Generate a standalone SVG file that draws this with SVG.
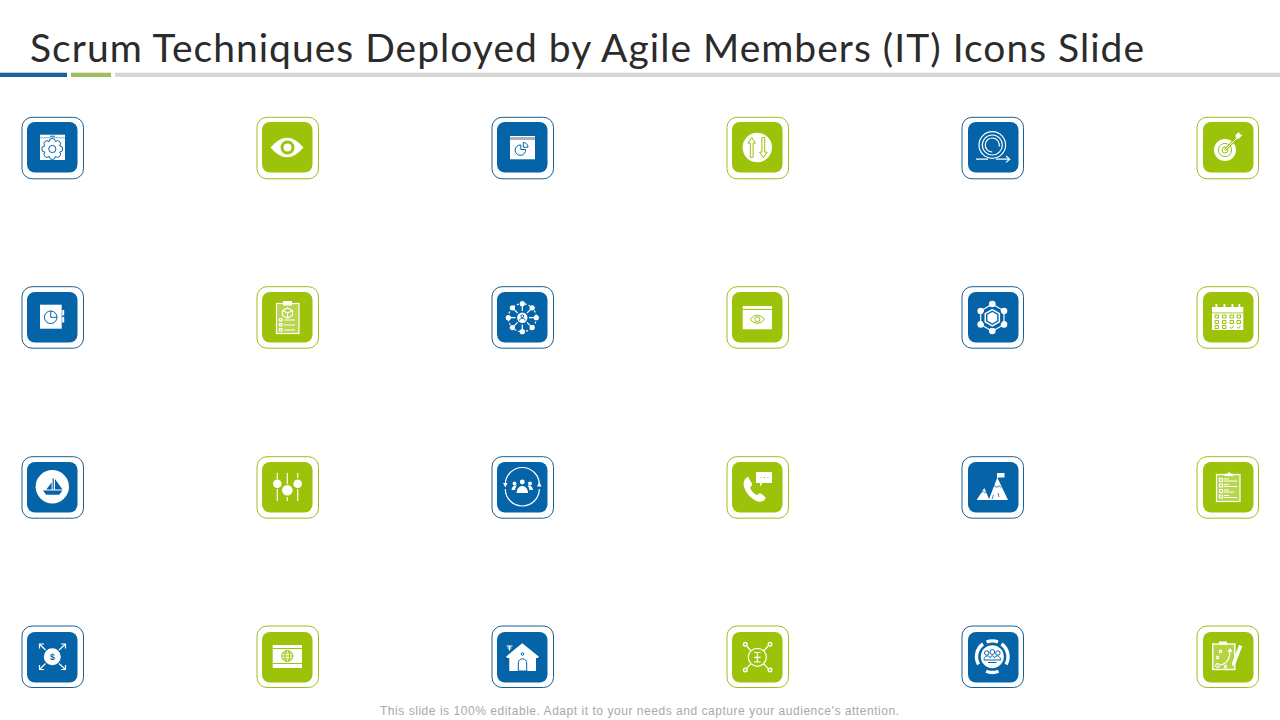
<svg xmlns="http://www.w3.org/2000/svg" width="1280" height="720" viewBox="0 0 1280 720">
<style>
.ob{fill:#fff;stroke:#1a5f92;stroke-width:1}
.og{fill:#fff;stroke:#a3bd1c;stroke-width:1}
.ib{fill:#0563a8}
.ig{fill:#9cc209}
.w{fill:#fff}
.sw{fill:none;stroke:#fff;stroke-width:1.2}
.sb{fill:none;stroke:#0563a8;stroke-width:1}
.sg{fill:none;stroke:#9cc209;stroke-width:1}
.fb{fill:#0563a8}
.lt{fill:#b9d44d;stroke:#fff;stroke-width:1.2}
.title{font-family:"Lato","Liberation Sans",sans-serif;font-size:39px;font-weight:400;fill:#2b2b2b}
.foot{font-family:"Liberation Sans",Arial,sans-serif;font-size:12px;fill:#a8a8a8}
</style>
<defs>
<rect id="ob" x="0" y="0" width="61.5" height="61.500" rx="10"/>
<rect id="ib" x="0" y="0" width="50.5" height="50.500" rx="8"/>
</defs>
<rect width="1280" height="720" fill="#fff"/>
<g id="title-block">
<text class="title" x="30" y="61.500" textLength="1114" lengthAdjust="spacing">Scrum Techniques Deployed by Agile Members (IT) Icons Slide</text>
<rect x="0" y="72.700" width="67" height="4.300" fill="#17649b"/>
<rect x="71" y="72.700" width="40" height="4.300" fill="#9dc05c"/>
<rect x="115" y="72.700" width="1165" height="4.300" fill="#d6d6d6"/>
</g>
<g id="connectors"></g>

<g id="icon-r1c1">
<use href="#ob" class="ob" x="22" y="117.300"/><use href="#ib" class="ib" x="27" y="122"/>
<rect class="w" x="40" y="134.700" width="25" height="25.300"/>
<path class="sb" d="M50 136.200h5"/>
<path d="M40 137.800h25" stroke="#0563a8" stroke-width=".5"/>
<path class="sb" d="M59.600 152.100a3 3 0 0 1-4.200 4.300a3 3 0 0 1-6.200 0a3 3 0 0 1-4.300-4.300a3 3 0 0 1 0-6.200a3 3 0 0 1 4.300-4.300a3 3 0 0 1 6.200 0a3 3 0 0 1 4.200 4.300a3 3 0 0 1 0 6.200z"/>
<circle class="sb" cx="52.300" cy="149" r="3.600"/>
</g>
<g id="icon-r1c2">
<use href="#ob" class="og" x="257" y="117.300"/><use href="#ib" class="ig" x="262" y="122"/>
<path class="w" d="M270.500 147.500Q287 128 303.500 147.500Q287 167 270.500 147.500z"/>
<circle cx="287.500" cy="147.500" r="5.500" fill="#fff" stroke="#9cc209" stroke-width="3"/>
</g>
<g id="icon-r1c3">
<use href="#ob" class="ob" x="492" y="117.300"/><use href="#ib" class="ib" x="497" y="122" width="51"/>
<rect class="w" x="510" y="136" width="25" height="23.300"/>
<rect x="510" y="137" width="25" height="3" fill="#a9b2ba"/>
<path class="sb" d="M525.500 149.500a5.200 5.200 0 1 1-4.700-4.500v4.500z"/>
<path class="sb" d="M523.300 147.200v-4.700a4.700 4.700 0 0 1 4.700 4.700z"/>
</g>
<g id="icon-r1c4">
<use href="#ob" class="og" x="727" y="117.300"/><use href="#ib" class="ig" x="732" y="122" width="51"/>
<circle class="w" cx="757.300" cy="147.500" r="14.700"/>
<path class="sg" d="M751.700 137.500l-3.800 5.600h2.400v14.200h2.800v-14.200h2.400z"/>
<path class="sg" d="M763.300 157.800l-3.800-5.600h2.400v-14.700h2.800v14.700h2.400z"/>
</g>
<g id="icon-r1c5">
<use href="#ob" class="ob" x="962" y="117.300"/><use href="#ib" class="ib" x="968" y="122"/>
<circle class="sw" cx="992.300" cy="145" r="13.300" stroke-width="1"/>
<circle class="sw" cx="992.300" cy="145" r="10" stroke-width="1.600"/>
<path class="sw" stroke-width=".7" d="M992.300 152a7 7 0 1 1 6.800-5.500"/>
<path class="sw" d="M976 159.200h12M996 159.200h13.500M1006 156l3.700 3.200l-3.700 3.200"/>
</g>
<g id="icon-r1c6">
<use href="#ob" class="og" x="1197" y="117.300"/><use href="#ib" class="ig" x="1203" y="122"/>
<circle class="w" cx="1225" cy="150" r="11"/>
<circle class="sg" cx="1225" cy="150" r="6.600"/>
<circle class="sg" cx="1225" cy="150" r="3"/>
<path d="M1225 150L1238 137" fill="none" stroke="#9cc209" stroke-width="2.600"/>
<path d="M1225 150L1238 137" fill="none" stroke="#fff" stroke-width="1"/>
<path class="w" d="M1236 139l-.5-4l3.500-3l.8 2.300l2.400.7l-3 3.500z"/>
</g>

<g id="icon-r2c1">
<use href="#ob" class="ob" x="22" y="286.700"/><use href="#ib" class="ib" x="27" y="292"/>
<rect class="w" x="40" y="304.700" width="21.700" height="24"/>
<rect class="w" x="62.200" y="310" width="2" height="5.500"/>
<rect class="w" x="62.200" y="317" width="2" height="5.500"/>
<circle class="sb" cx="50.700" cy="317.300" r="6.300"/>
<path class="sb" d="M50.700 311v6.300h6.300"/>
</g>
<g id="icon-r2c2">
<use href="#ob" class="og" x="257" y="286.700"/><use href="#ib" class="ig" x="262" y="292"/>
<rect class="lt" x="276.500" y="303.500" width="22.500" height="30"/>
<rect class="w" x="283" y="301" width="9" height="4.500"/>
<path class="sw" stroke-width=".8" d="M287.500 308l5 2.500v5l-5 2.500l-5-2.500v-5zM282.500 310.500l5 2.500l5-2.500M287.500 313v5"/>
<path class="sw" stroke-width=".9" d="M279.500 318.500h2.400v2.400h-2.400zM279.500 323.500h2.400v2.400h-2.400zM279.500 328.500h2.400v2.400h-2.400zM284 320h11M284 325h11M284 330h11"/>
</g>
<g id="icon-r2c3">
<use href="#ob" class="ob" x="492" y="286.700"/><use href="#ib" class="ib" x="497" y="292" width="51"/>
<circle class="sw" cx="522.300" cy="317.700" r="14" stroke-dasharray="2 2" stroke-width=".9"/>
<path class="sw" d="M522.300 311v-6M522.300 324.400v6M515.600 317.700h-6M529 317.700h6M517.600 313l-4.200-4.200M527 313l4.200-4.200M517.600 322.400l-4.200 4.200M527 322.400l4.200 4.200"/>
<circle class="w" cx="522.300" cy="317.700" r="5.200"/>
<circle class="w" cx="522.300" cy="303.700" r="2.600"/><circle class="w" cx="522.300" cy="331.700" r="2.600"/>
<circle class="w" cx="508.300" cy="317.700" r="2.600"/><circle class="w" cx="536.300" cy="317.700" r="2.600"/>
<circle class="w" cx="512.400" cy="307.800" r="2.600"/><circle class="w" cx="532.200" cy="307.800" r="2.600"/>
<circle class="w" cx="512.400" cy="327.600" r="2.600"/><circle class="w" cx="532.200" cy="327.600" r="2.600"/>
<circle class="sb" cx="522.300" cy="316.200" r="1.400"/>
<path class="sb" d="M519.500 320.500c0-3 5.600-3 5.600 0"/>
</g>
<g id="icon-r2c4">
<use href="#ob" class="og" x="727" y="286.700"/><use href="#ib" class="ig" x="732" y="292" width="51"/>
<rect class="w" x="742.700" y="306" width="29.300" height="23.300"/>
<path class="sg" d="M742.700 309.500h29.300"/>
<path class="sg" d="M750 319.300Q757.300 311 764.600 319.300Q757.300 327.600 750 319.300z"/>
<circle class="sg" cx="757.300" cy="319.300" r="2.500"/>
</g>
<g id="icon-r2c5">
<use href="#ob" class="ob" x="962" y="286.700"/><use href="#ib" class="ib" x="968" y="292"/>
<path class="sw" d="M992.300 304L1004 311V324.400L992.300 331.200L980.700 324.400V311z"/>
<circle class="w" cx="992.300" cy="304" r="3.300"/><circle class="w" cx="992.300" cy="331" r="3.300"/>
<circle class="w" cx="980.700" cy="311" r="3.300"/><circle class="w" cx="1004" cy="311" r="3.300"/>
<circle class="w" cx="980.700" cy="324.400" r="3.300"/><circle class="w" cx="1004" cy="324.400" r="3.300"/>
<circle class="ib" cx="992.300" cy="317.700" r="10.500"/>
<path class="w" d="M992.300 308.700l7.800 4.500v9l-7.800 4.500l-7.800-4.500v-9z"/>
<path class="fb" d="M992.300 310.400l6.300 3.650v7.300l-6.300 3.650l-6.300-3.650v-7.300z"/>
<path class="w" d="M992.300 312l4.900 2.850v5.700l-4.900 2.850l-4.900-2.850v-5.700z"/>
</g>
<g id="icon-r2c6">
<use href="#ob" class="og" x="1197" y="286.700"/><use href="#ib" class="ig" x="1203" y="292"/>
<rect class="w" x="1212" y="307" width="31.300" height="23"/>
<path d="M1212 312.900h31.300" stroke="#9cc209" stroke-width=".8"/>
<path class="w" d="M1215.500 304h1.800v4h-1.800zM1223.500 304h1.800v4h-1.800zM1231.500 304h1.800v4h-1.800zM1238.500 304h1.800v4h-1.800z"/>
<path class="sg" d="M1215 315h3.500v3h-3.500zM1222.500 315h3.500v3h-3.500zM1230 315h3.500v3h-3.500zM1237 315h3.500v3h-3.500zM1215 320.500h3.500v3h-3.500zM1222.500 320.500h3.500v3h-3.500zM1230 320.500h3.500v3h-3.500zM1237 320.500h3.500v3h-3.500zM1215 325.500h3.500v3h-3.500zM1222.500 325.500h3.500v3h-3.500zM1230 327l1.500 1.500l2-2.500M1237 327l1.500 1.500l2-2.500"/>
</g>

<g id="icon-r3c1">
<use href="#ob" class="ob" x="22" y="456.700"/><use href="#ib" class="ib" x="27" y="462"/>
<circle class="w" cx="52.300" cy="486.700" r="16.700"/>
<path class="fb" d="M43 490.500h19.500l-3.300 4.300h-13z"/>
<path class="fb" d="M46.300 489.500l5.300-7v7z"/>
<path class="fb" d="M52.600 478.500h1.200v11h-1.200z"/>
<path class="fb" d="M55 479l7.500 10.500h-7.500z"/>
</g>
<g id="icon-r3c2">
<use href="#ob" class="og" x="257" y="456.700"/><use href="#ib" class="ig" x="262" y="462"/>
<path class="sw" stroke-width="1.300" d="M277.300 473v6M277.300 489v12M287.300 473v11M287.300 497v4M297.700 473v5M297.700 489v12"/>
<circle class="w" cx="277.300" cy="483.700" r="4.300"/>
<circle class="w" cx="287.300" cy="490.300" r="5.300"/>
<circle class="w" cx="297.700" cy="483.700" r="4.300"/>
</g>
<g id="icon-r3c3">
<use href="#ob" class="ob" x="492" y="456.700"/><use href="#ib" class="ib" x="497" y="462" width="51"/>
<path class="sw" d="M505.300 484.500a17 17 0 0 1 34 0M539.300 489a17 17 0 0 1-34 0"/>
<path class="w" d="M505.300 487.500l-2.300-4.500h4.600zM539.300 482l-2.300 4.500h4.600z"/>
<circle class="w" cx="522.300" cy="482" r="2.400"/>
<circle class="w" cx="514.500" cy="483.500" r="1.900"/>
<circle class="w" cx="530" cy="483.500" r="1.900"/>
<path class="w" d="M516.500 493c.5-5 3-7 5.800-7s5.300 2 5.800 7z"/>
<path class="w" d="M511.500 490c.3-3 2-4.500 4-4.500c.6 0 1 .1 1.400.3c-1 1-1.600 2.400-1.900 4.200zM533 490c-.3-3-2-4.500-4-4.500c-.6 0-1 .1-1.400.3c1 1 1.600 2.400 1.900 4.200z"/>
</g>
<g id="icon-r3c4">
<use href="#ob" class="og" x="727" y="456.700"/><use href="#ib" class="ig" x="732" y="462" width="51"/>
<path class="w" d="M749 478.500l3 5c.5 1 0 2-1 3l-1 1.200c1.500 3.500 3.500 5.500 7 7.500l1.500-1.300c1-.8 2-.8 3 0l3.200 2.500c1 .8 1 2 .2 3c-1.500 2-4 3-7 2c-7-2.500-12-8.500-14-15c-1-4 .5-7.500 3-9c.8-.5 1.600-.4 2.100.6z"/>
<path class="w" d="M756 472h16v11h-9.500l-2.500 3.500v-3.500h-4z"/>
<path d="M760.500 477.500h1M764 477.500h1M767.500 477.500h1" stroke="#9cc209" stroke-width="1.200"/>
</g>
<g id="icon-r3c5">
<use href="#ob" class="ob" x="962" y="456.700"/><use href="#ib" class="ib" x="968" y="462"/>
<path class="w" d="M997.300 477.500L1008 500H988.700z"/>
<path class="w" d="M984.300 488L976.700 500H989.500z"/>
<path fill="none" stroke="#0563a8" stroke-width=".8" d="M992 499l1.500-4M999 497l-1-4M993.800 485.500l3 1.800l2.500-1.500l2 1.700M981.500 492.500l2-1l1.800 1.200l1.500-1"/>
<rect class="w" x="997" y="473" width="1" height="5"/>
<rect class="w" x="998" y="473" width="6.500" height="4.500"/>
</g>
<g id="icon-r3c6">
<use href="#ob" class="og" x="1197" y="456.700"/><use href="#ib" class="ig" x="1203" y="462"/>
<rect class="lt" x="1216.500" y="474.500" width="23.500" height="27"/>
<path class="w" d="M1224 476l1.500-2.500h2.500l1-2.300l1 2.300h2.500l1.500 2.500z"/>
<path class="sw" stroke-width=".9" d="M1219.500 478.500h3v3h-3zM1219.500 484h3v3h-3zM1219.500 489.500h3v3h-3zM1219.500 495h3v3h-3zM1224 479h5M1224 481h13M1224 484.500h5M1224 486.500h13M1224 490h5M1224 492h10M1224 495.500h5M1224 497.500h13"/>
</g>

<g id="icon-r4c1">
<use href="#ob" class="ob" x="22" y="626"/><use href="#ib" class="ib" x="27" y="632"/>
<circle class="w" cx="52.300" cy="656.700" r="8.500"/>
<text x="52.300" y="659.800" text-anchor="middle" font-family="Liberation Sans, sans-serif" font-size="8.500" font-weight="700" fill="#0563a8">$</text>
<path class="sw" d="M45.500 650L39.500 644M39.500 648.500V644H44M59 650L65.500 644M65.500 648.500V644H61M45.500 663.500L39.500 669.500M39.500 665V669.500H44M59 663.500L65.500 669.500M65.500 665V669.500H61"/>
</g>
<g id="icon-r4c2">
<use href="#ob" class="og" x="257" y="626"/><use href="#ib" class="ig" x="262" y="632"/>
<rect class="w" x="272.700" y="645" width="29.300" height="23"/>
<path class="sg" d="M272.700 648.500h29.300M272.700 663.500h29.300" stroke-width=".8"/>
<circle class="sg" cx="287.300" cy="656" r="5.500"/>
<ellipse class="sg" cx="287.300" cy="656" rx="2.400" ry="5.500"/>
<path class="sg" d="M281.800 656h11M282.500 653h9.600M282.500 659h9.600" stroke-width=".7"/>
</g>
<g id="icon-r4c3">
<use href="#ob" class="ob" x="492" y="626"/><use href="#ib" class="ib" x="497" y="632" width="51"/>
<path class="w" d="M522.300 643.300L539 656.700L537.500 658H536V671H509.300V658H507.500L506 656.700L516 648.300z"/>
<path d="M518.300 671v-8a4.200 4.200 0 0 1 8.400 0v8z" fill="#fff" stroke="#0563a8" stroke-width="1"/>
<circle class="sb" cx="522.500" cy="654" r="1.300"/>
<path class="sw" d="M506.500 646h6M509.500 646v4.500M507.500 648h4"/>
</g>
<g id="icon-r4c4">
<use href="#ob" class="og" x="727" y="626"/><use href="#ib" class="ig" x="732" y="632" width="51"/>
<circle class="sw" cx="757.300" cy="657.300" r="9"/>
<path class="sw" d="M751 651l-4.300-5M763.600 651l4.500-5M751 663.600l-4.500 5M763.600 663.600l4.500 5"/>
<circle cx="745.300" cy="644.300" r="1.800" fill="#9cc209" stroke="#fff" stroke-width="1.400"/>
<circle cx="770" cy="644.300" r="1.800" fill="#9cc209" stroke="#fff" stroke-width="1.400"/>
<circle cx="745.300" cy="670" r="1.800" fill="#9cc209" stroke="#fff" stroke-width="1.400"/>
<circle cx="770" cy="670" r="1.800" fill="#9cc209" stroke="#fff" stroke-width="1.400"/>
<path class="sw" d="M754 652.500h6.600M757.300 652.500v9.500M754 662h6.600M754 657.300h6.600"/>
</g>
<g id="icon-r4c5">
<use href="#ob" class="ob" x="962" y="626"/><use href="#ib" class="ib" x="968" y="632"/>
<circle class="w" cx="992.300" cy="656.700" r="11.500"/>
<path fill="none" stroke="#fff" stroke-width="3.400" d="M986.600 642a15.700 15.700 0 0 1 11.400 0M1001.500 644a15.700 15.700 0 0 1 4.500 20.500M998.500 671.200a15.700 15.700 0 0 1-12.400 0M978.500 664.400a15.700 15.700 0 0 1 4.500-20.400"/>
<circle class="sb" cx="992.300" cy="652" r="2.400"/><circle class="sb" cx="986.700" cy="653" r="2.200"/><circle class="sb" cx="997.900" cy="653" r="2.200"/>
<path class="sb" d="M984 660c0-5 5.500-5 6.200-2c.7-3 3.600-3 4.200 0c.7-3 6.100-3 6.100 2zM988 662.500h8.500"/>
</g>
<g id="icon-r4c6">
<use href="#ob" class="og" x="1197" y="626"/><use href="#ib" class="ig" x="1203" y="632"/>
<rect x="1212.800" y="644" width="22" height="25.500" fill="#b5d240" stroke="#fff" stroke-width="1.400"/>
<rect class="w" x="1219" y="641.500" width="8" height="3"/>
<path class="w" d="M1232 663l7-18l3.300 1.300l-7 18l-3 2z"/>
<path class="sw" d="M1219 650l3 3M1222 650l-3 3M1216 656l3 3M1219 656l-3 3M1224 665l3 3M1227 665l-3 3M1220 665c6-1 10-6 10-15M1228 652l2-3l2 3"/>
<circle class="sw" cx="1217.500" cy="665.500" r="1.800"/>
</g>

<g id="footer">
<text class="foot" x="380" y="715" textLength="519" lengthAdjust="spacing">This slide is 100% editable. Adapt it to your needs and capture your audience's attention.</text>
</g>
</svg>
